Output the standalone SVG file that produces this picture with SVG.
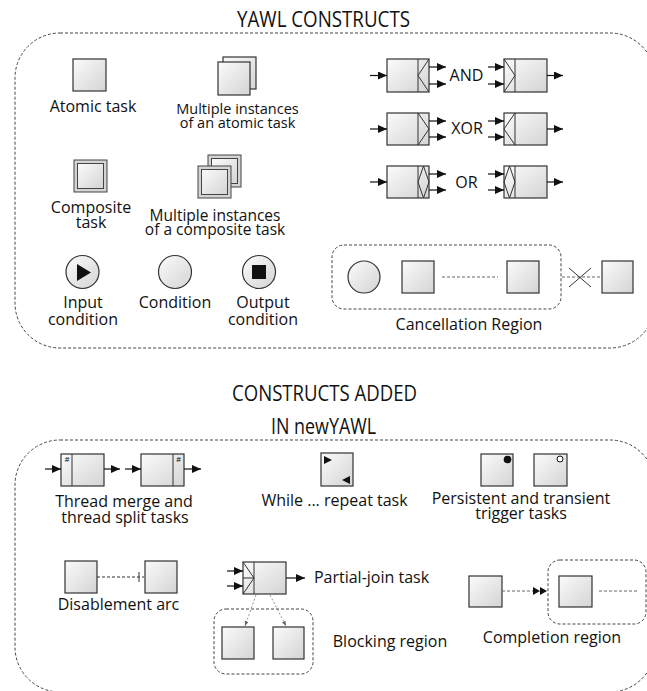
<svg xmlns="http://www.w3.org/2000/svg" width="647" height="691" viewBox="0 0 647 691">
<defs>
<linearGradient id="g" x1="0" y1="0" x2="1" y2="1">
<stop offset="0" stop-color="#fbfbfb"/><stop offset="1" stop-color="#d4d4d4"/>
</linearGradient>
<marker id="ah" markerUnits="userSpaceOnUse" markerWidth="9" markerHeight="8" refX="9" refY="4" orient="auto"><path d="M0,0 L9,4 L0,8 z" fill="#111"/></marker>
<marker id="sah" markerUnits="userSpaceOnUse" markerWidth="5" markerHeight="4" refX="5" refY="2" orient="auto"><path d="M0,0 L5,2 L0,4 z" fill="#666"/></marker>
<marker id="dah" markerUnits="userSpaceOnUse" markerWidth="14" markerHeight="8" refX="14" refY="4" orient="auto"><path d="M0,0 L7,4 L0,8 z M7,0 L14,4 L7,8 z" fill="#111"/></marker>
</defs>
<style>
.t{fill:url(#g);stroke:#333;stroke-width:1.2}
.cb{fill:#d4d4d4;stroke:#444;stroke-width:1}
.ci{fill:url(#g);stroke:#444;stroke-width:1}
.ln{fill:none;stroke:#333;stroke-width:1}
.a{stroke:#111;stroke-width:1.2;fill:none;marker-end:url(#ah)}
.reg{fill:none;stroke:#444;stroke-width:1;stroke-dasharray:3,2}
.dot{stroke:#666;stroke-width:1.2;stroke-dasharray:3,2;fill:none}
.sa{stroke:#777;stroke-width:0.8;stroke-dasharray:2,2;fill:none;marker-end:url(#sah)}
text{font-family:"Open Sans","Liberation Sans",sans-serif;fill:#111;text-anchor:middle}
.lb{font-size:16px}
.sm{font-size:14.5px}
.md{font-size:15.5px}
.ti{font-size:22px}
.hs{font-size:8px}
</style>

<g id="frames">
<rect class="reg" x="15" y="33" width="640" height="315" rx="45"/>
<rect class="reg" x="15" y="440" width="640" height="252" rx="45"/>
</g>

<g id="titles">
<text class="ti" x="323.5" y="27" textLength="173" lengthAdjust="spacingAndGlyphs">YAWL CONSTRUCTS</text>
<text class="ti" x="324.5" y="401" textLength="185" lengthAdjust="spacingAndGlyphs">CONSTRUCTS ADDED</text>
<text class="ti" x="323.5" y="434" textLength="105" lengthAdjust="spacingAndGlyphs">IN newYAWL</text>
</g>

<g id="atomic-task">
<rect class="t" x="73" y="59" width="33" height="32"/>
<text class="lb" x="93" y="112">Atomic task</text>
</g>

<g id="multi-atomic-task">
<rect class="t" x="223" y="57" width="33" height="32"/>
<rect class="t" x="218" y="62" width="32" height="33"/>
<text class="sm" x="237.5" y="114">Multiple instances</text>
<text class="sm" x="237.5" y="128">of an atomic task</text>
</g>

<g id="composite-task">
<rect class="cb" x="74" y="160" width="33" height="32"/>
<rect class="ci" x="77.5" y="163.5" width="26" height="25"/>
<text class="lb" x="91" y="213">Composite</text>
<text class="lb" x="91" y="228">task</text>
</g>

<g id="multi-composite-task">
<rect class="cb" x="208" y="155" width="33" height="32"/>
<rect class="ci" x="211.5" y="158.5" width="26" height="25"/>
<rect class="cb" x="198" y="166" width="33" height="32"/>
<rect class="ci" x="201.5" y="169.5" width="26" height="25"/>
<text class="md" x="215" y="221">Multiple instances</text>
<text class="md" x="215" y="235">of a composite task</text>
</g>

<g id="input-condition">
<circle class="t" cx="82.5" cy="272" r="16.5"/>
<path d="M77,264 L91,272.5 L77,281 Z" fill="#111"/>
<text class="lb" x="83" y="308">Input</text>
<text class="lb" x="83" y="325">condition</text>
</g>

<g id="condition">
<circle class="t" cx="175" cy="272" r="16.5"/>
<text class="lb" x="175" y="308">Condition</text>
</g>

<g id="output-condition">
<circle class="t" cx="259" cy="272" r="16.5"/>
<rect x="252" y="265" width="14" height="14" fill="#111"/>
<text class="lb" x="263" y="308">Output</text>
<text class="lb" x="263" y="325">condition</text>
</g>

<g id="and-split">
<rect class="t" x="387" y="59" width="42" height="33"/>
<path class="ln" d="M418,59 V92 M429,59 L418,75.5 L429,92"/>
</g>
<g id="and-join">
<rect class="t" x="504" y="59" width="43" height="33"/>
<path class="ln" d="M515,59 V92 M504,59 L515,75.5 L504,92"/>
</g>
<text class="lb" x="466.5" y="81">AND</text>

<g id="xor-split">
<rect class="t" x="387" y="113" width="42" height="32"/>
<path class="ln" d="M418,113 V145 M418,113 L429,129 L418,145"/>
</g>
<g id="xor-join">
<rect class="t" x="504" y="113" width="43" height="32"/>
<path class="ln" d="M515,113 V145 M515,113 L504,129 L515,145"/>
</g>
<text class="lb" x="467" y="134">XOR</text>

<g id="or-split">
<rect class="t" x="387" y="166" width="42" height="32"/>
<path class="ln" d="M418,166 V198 M423.5,166 L418,182 L423.5,198 L429,182 Z"/>
</g>
<g id="or-join">
<rect class="t" x="504" y="166" width="43" height="32"/>
<path class="ln" d="M515,166 V198 M509.5,166 L504,182 L509.5,198 L515,182 Z"/>
</g>
<text class="lb" x="466.5" y="188">OR</text>

<g id="cancellation-region">
<rect class="reg" x="332" y="245" width="229" height="64" rx="12"/>
<circle class="t" cx="364" cy="277" r="16"/>
<rect class="t" x="402" y="261" width="32" height="32"/>
<rect class="t" x="507" y="261" width="32" height="32"/>
<text class="lb" x="469" y="330">Cancellation Region</text>
</g>
<g id="cancel-task">
<rect class="t" x="602" y="261" width="31" height="32"/>
</g>

<g id="thread-merge-task">
<rect class="t" x="61" y="454" width="43" height="32"/>
<line class="ln" x1="72" y1="454" x2="72" y2="486"/>
<text class="hs" x="67" y="462">#</text>
</g>
<g id="thread-split-task">
<rect class="t" x="141" y="454" width="43" height="32"/>
<line class="ln" x1="173" y1="454" x2="173" y2="486"/>
<text class="hs" x="178.5" y="462">#</text>
</g>
<text class="lb" x="124" y="507">Thread merge and</text>
<text class="lb" x="125" y="523">thread split tasks</text>

<g id="while-repeat-task">
<rect class="t" x="321" y="453" width="32" height="33"/>
<path d="M324,456 L332,460 L324,464 Z M350,476 L342,480 L350,484 Z" fill="#111"/>
<text class="lb" x="334.5" y="506">While ... repeat task</text>
</g>

<g id="persistent-trigger-task">
<rect class="t" x="481" y="454" width="32" height="32"/>
<circle cx="507.5" cy="459.5" r="3.8" fill="#111"/>
</g>
<g id="transient-trigger-task">
<rect class="t" x="534" y="454" width="33" height="32"/>
<circle cx="560" cy="459" r="3" fill="#fff" stroke="#111" stroke-width="1"/>
</g>
<text class="lb" x="521" y="504">Persistent and transient</text>
<text class="lb" x="521" y="519">trigger tasks</text>

<g id="disable-source">
<rect class="t" x="65" y="561" width="32" height="32"/>
</g>
<g id="disable-target">
<rect class="t" x="145" y="561" width="32" height="32"/>
</g>
<text class="lb" x="118.5" y="610">Disablement arc</text>

<g id="partial-join-task">
<rect class="t" x="243" y="562" width="43" height="32"/>
<path class="ln" d="M254,562 V594 M243,562 L254,578 L243,594 M243,578 H254"/>
<text class="lb" x="371.5" y="583">Partial-join task</text>
</g>

<g id="blocking-region">
<rect class="reg" x="214" y="609" width="99" height="65" rx="12"/>
<rect class="t" x="222" y="627" width="32" height="32"/>
<rect class="t" x="273" y="627" width="31" height="32"/>
<text class="lb" x="390" y="647">Blocking region</text>
</g>

<g id="completion-source">
<rect class="t" x="469" y="576" width="33" height="31"/>
</g>
<g id="completion-region">
<rect class="reg" x="548" y="560" width="98" height="64" rx="12"/>
<rect class="t" x="559" y="576" width="33" height="31"/>
<text class="lb" x="552" y="643">Completion region</text>
</g>

<g id="connectors">
<line class="a" x1="370" y1="75.5" x2="387" y2="75.5"/>
<line class="a" x1="429" y1="67" x2="446" y2="67"/>
<line class="a" x1="429" y1="84" x2="446" y2="84"/>
<line class="a" x1="488" y1="67" x2="504" y2="67"/>
<line class="a" x1="488" y1="84" x2="504" y2="84"/>
<line class="a" x1="547" y1="75.5" x2="563" y2="75.5"/>

<line class="a" x1="370" y1="129" x2="387" y2="129"/>
<line class="a" x1="429" y1="121" x2="446" y2="121"/>
<line class="a" x1="429" y1="137" x2="446" y2="137"/>
<line class="a" x1="488" y1="121" x2="504" y2="121"/>
<line class="a" x1="488" y1="137" x2="504" y2="137"/>
<line class="a" x1="547" y1="129" x2="563" y2="129"/>

<line class="a" x1="370" y1="182" x2="387" y2="182"/>
<line class="a" x1="429" y1="174" x2="446" y2="174"/>
<line class="a" x1="429" y1="190" x2="446" y2="190"/>
<line class="a" x1="488" y1="174" x2="504" y2="174"/>
<line class="a" x1="488" y1="190" x2="504" y2="190"/>
<line class="a" x1="547" y1="182" x2="563" y2="182"/>

<line class="dot" x1="442" y1="277" x2="498" y2="277"/>
<line class="dot" x1="562" y1="277" x2="600" y2="277"/>
<path d="M569,268 L591,287 M569,287 L591,268" stroke="#333" stroke-width="1" fill="none"/>

<line class="a" x1="45" y1="469" x2="61" y2="469"/>
<line class="a" x1="104" y1="469" x2="120" y2="469"/>
<line class="a" x1="125" y1="469" x2="141" y2="469"/>
<line class="a" x1="184" y1="469" x2="201" y2="469"/>

<line x1="97" y1="577" x2="144" y2="577" stroke="#333" stroke-width="1" stroke-dasharray="3,2"/>
<line x1="139" y1="572" x2="139" y2="582" stroke="#333" stroke-width="1"/>

<line class="a" x1="227" y1="571" x2="243" y2="571"/>
<line class="a" x1="227" y1="586" x2="243" y2="586"/>
<line class="a" x1="286" y1="578" x2="305" y2="578"/>
<line class="sa" x1="256" y1="595" x2="245" y2="626"/>
<line class="sa" x1="270" y1="595" x2="286" y2="626"/>

<line class="dot" x1="502" y1="591" x2="535" y2="591"/>
<line x1="532" y1="591" x2="547" y2="591" stroke="none" marker-end="url(#dah)"/>
<line class="dot" x1="599" y1="591" x2="637" y2="591"/>
</g>
</svg>
